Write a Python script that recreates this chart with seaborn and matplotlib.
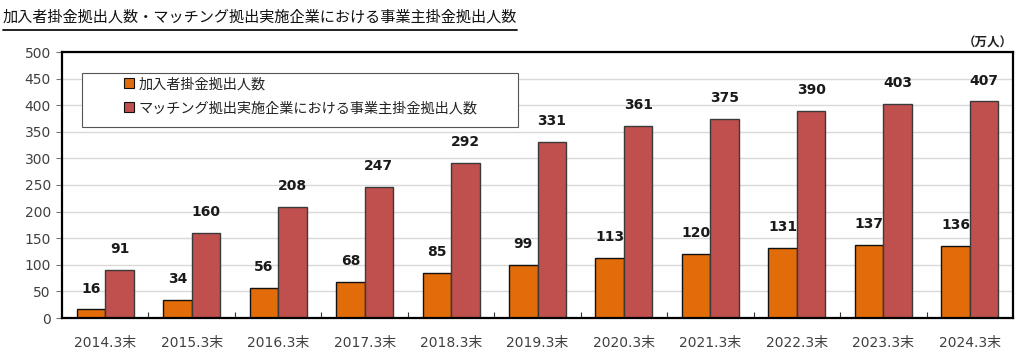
import matplotlib
matplotlib.use("Agg")
import matplotlib.pyplot as plt
from matplotlib.patches import Rectangle, Patch
from matplotlib.lines import Line2D
import seaborn as sns
import pandas as pd

categories = ["2014.3末", "2015.3末", "2016.3末", "2017.3末", "2018.3末", "2019.3末",
              "2020.3末", "2021.3末", "2022.3末", "2023.3末", "2024.3末"]
series_a_name = "加入者掛金拠出人数"
series_b_name = "マッチング拠出実施企業における事業主掛金拠出人数"
series_a = [16, 34, 56, 68, 85, 99, 113, 120, 131, 137, 136]
series_b = [91, 160, 208, 247, 292, 331, 361, 375, 390, 403, 407]
title = "加入者掛金拠出人数・マッチング拠出実施企業における事業主掛金拠出人数"
unit = "（万人）"

sns.set_theme(style="white")
plt.rcParams['font.family'] = ['DejaVu Sans', 'Noto Sans CJK JP']
jp = ['Noto Sans CJK JP', 'DejaVu Sans']

df = pd.DataFrame({
    "cat": categories * 2,
    "value": series_a + series_b,
    "series": [series_a_name] * len(categories) + [series_b_name] * len(categories),
})

colors = {series_a_name: "#E36C0A", series_b_name: "#C0504D"}
edges = {series_a_name: "#111111", series_b_name: "#3a3a3a"}

fig = plt.figure(figsize=(10.24, 3.6), dpi=100)
ax = fig.add_axes([62 / 1024, 1 - 318 / 360, (1013 - 62) / 1024, (318 - 52) / 360])

sns.barplot(data=df, x="cat", y="value", hue="series", palette=colors,
            order=categories, hue_order=[series_a_name, series_b_name],
            width=0.66, ax=ax, legend=False, zorder=3, saturation=1)

for cont, name in zip(ax.containers, [series_a_name, series_b_name]):
    for p in cont:
        p.set_edgecolor(edges[name])
        p.set_linewidth(1.0)
    ax.bar_label(cont, padding=10, fontsize=10, fontweight='bold', color='#1a1a1a')

ax.set_ylim(0, 500)
ax.set_xlim(-0.5, len(categories) - 0.5)
ax.set_yticks(range(0, 501, 50))
ax.set_xlabel("")
ax.set_ylabel("")
ax.yaxis.grid(True, color="#d9d9d9", linewidth=1, zorder=0)
ax.set_axisbelow(True)
for s in ax.spines.values():
    s.set_visible(True)
    s.set_color("black")
    s.set_linewidth(1.6)
    s.set_zorder(6)

ax.tick_params(axis='y', direction='out', length=4, width=0.8, color='#777777',
               labelsize=10, labelcolor='#404040', pad=4, left=True)
ax.tick_params(axis='x', which='major', length=0, labelsize=10, labelcolor='#404040', pad=13)
ax.set_xticks([i + 0.5 for i in range(len(categories) - 1)], minor=True)
ax.tick_params(axis='x', which='minor', direction='in', length=4, width=0.8, color='#333333', bottom=True)

# legend
ax.add_patch(Rectangle((20 / 951, (318 - 127) / 266), 436 / 951, 54 / 266,
                       transform=ax.transAxes, facecolor='white', edgecolor='#555555',
                       linewidth=0.8, zorder=4))
handles = [Patch(facecolor=colors[n], edgecolor='#111111', linewidth=0.8) for n in [series_a_name, series_b_name]]
leg = ax.legend(handles, [series_a_name, series_b_name], loc='upper left',
                bbox_to_anchor=((124 - 62) / 951, (318 - 77) / 266), frameon=False,
                prop={'family': jp, 'size': 10.2}, handlelength=0.7, handleheight=0.7,
                handletextpad=0.3, labelspacing=0.72, borderpad=0, borderaxespad=0)
leg.set_zorder(5)
for t in leg.get_texts():
    t.set_color('#222222')

# title with underline
t = fig.text(3 / 1024, 1 - 17 / 360, title, fontsize=10.9, family=jp, va='center', ha='left', color='#111111')
fig.text(1013 / 1024, 1 - 43 / 360, unit, fontsize=9, family=jp, fontweight='bold', va='center', ha='right', color='#222222')
fig.canvas.draw()
bb = t.get_window_extent().transformed(fig.transFigure.inverted())
fig.add_artist(Line2D([bb.x0, bb.x1], [1 - 30 / 360, 1 - 30 / 360], transform=fig.transFigure,
                      color='#111111', linewidth=1.3))

fig.savefig("out.png", dpi=100)
